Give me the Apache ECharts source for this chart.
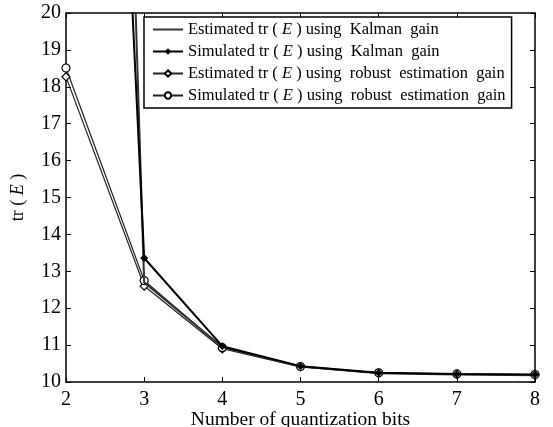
<!DOCTYPE html>
<html><head><meta charset="utf-8">
<script src="https://cdn.jsdelivr.net/npm/echarts@6/dist/echarts.min.js"></script>
<style>html,body{margin:0;padding:0;background:#fff}#c{width:553px;height:427px}</style>
</head><body><div id="c"></div>
<script>
const bits = [2, 3, 4, 5, 6, 7, 8];
const kalmanEst = [80, 12.7, 10.95, 10.42, 10.24, 10.2, 10.18];
const kalmanSim = [58, 13.36, 10.97, 10.43, 10.25, 10.22, 10.2];
const robustEst = [18.27, 12.6, 10.9, 10.41, 10.24, 10.21, 10.19];
const robustSim = [18.51, 12.75, 10.93, 10.42, 10.25, 10.22, 10.2];
const names = [
  'Estimated tr(E) using Kalman gain',
  'Simulated tr(E) using Kalman gain',
  'Estimated tr(E) using robust estimation gain',
  'Simulated tr(E) using robust estimation gain'
];
const F = 'Liberation Serif, Times New Roman, serif';
const pairs = arr => bits.map((b, i) => [b, arr[i]]);
const chart = echarts.init(document.getElementById('c'));
const axisCommon = {
  type: 'value', min: 2, max: 8, interval: 1,
  axisLine: {show: true, onZero: false, lineStyle: {color: '#000', width: 1.5}},
  axisTick: {show: true, inside: true, length: 5, lineStyle: {color: '#000', width: 1}},
  splitLine: {show: false}
};
const LF = 16.5;
chart.setOption({
  animation: false,
  grid: {left: 66, right: 18, top: 13, bottom: 45, containLabel: false, outerBoundsMode: 'none'},
  xAxis: [
    Object.assign({}, axisCommon, {
      position: 'bottom',
      name: 'Number of quantization bits', nameLocation: 'middle', nameGap: 28, nameMoveOverlap: false,
      nameTextStyle: {fontFamily: F, fontSize: 19.5, color: '#000'},
      axisLabel: {fontFamily: F, fontSize: 20, color: '#000', margin: 8}
    }),
    Object.assign({}, axisCommon, {position: 'top', axisLabel: {show: false}})
  ],
  yAxis: [
    Object.assign({}, axisCommon, {
      min: 10, max: 20, interval: 1, position: 'left',
      name: '{a|tr ( }{e|E}{a| )}', nameLocation: 'middle', nameGap: 39, nameRotate: 90, nameMoveOverlap: false,
      nameTextStyle: {fontFamily: F, fontSize: 18, color: '#000',
        rich: {a: {fontFamily: F, fontSize: 18}, e: {fontFamily: F, fontSize: 18, fontStyle: 'italic'}}},
      axisLabel: {fontFamily: F, fontSize: 20, color: '#000', margin: 5}
    }),
    Object.assign({}, axisCommon, {min: 10, max: 20, interval: 1, position: 'right', axisLabel: {show: false}})
  ],
  legend: {
    orient: 'vertical', left: 144, top: 17,
    backgroundColor: '#fff', borderColor: '#000', borderWidth: 1.5, borderRadius: 0,
    padding: [4, 6, 4, 8], itemGap: 5, itemWidth: 30, itemHeight: 8,
    data: [
      {name: names[0], itemStyle: {color: 'rgba(0,0,0,0)', borderWidth: 0, opacity: 0}},
      names[1], names[2], names[3]
    ],
    textStyle: {fontFamily: F, fontSize: LF, color: '#000',
      rich: {a: {fontFamily: F, fontSize: LF}, e: {fontFamily: F, fontSize: LF, fontStyle: 'italic'}}},
    formatter: function (n) {
      const parts = n.split('tr(E)');
      return '{a|' + parts[0] + 'tr ( }{e|E}{a| ) ' + parts[1].trim().replace(/ /g, '  ') + '}';
    }
  },
  series: [
    {name: names[0], type: 'line', data: pairs(kalmanEst), symbol: 'none',
      lineStyle: {color: '#333', width: 2}, itemStyle: {color: '#333'}, z: 3},
    {name: names[1], type: 'line', data: pairs(kalmanSim), symbol: 'diamond', symbolSize: 8,
      lineStyle: {color: '#000', width: 2}, itemStyle: {color: '#000'}, z: 4},
    {name: names[2], type: 'line', data: pairs(robustEst), symbol: 'diamond', symbolSize: 8,
      lineStyle: {color: '#222', width: 1.2}, itemStyle: {color: '#fff', borderColor: '#000', borderWidth: 1.2}, z: 2},
    {name: names[3], type: 'line', data: pairs(robustSim), symbol: 'circle', symbolSize: 8,
      lineStyle: {color: '#222', width: 1.2}, itemStyle: {color: '#fff', borderColor: '#000', borderWidth: 1.2}, z: 2}
  ]
});
</script></body></html>
